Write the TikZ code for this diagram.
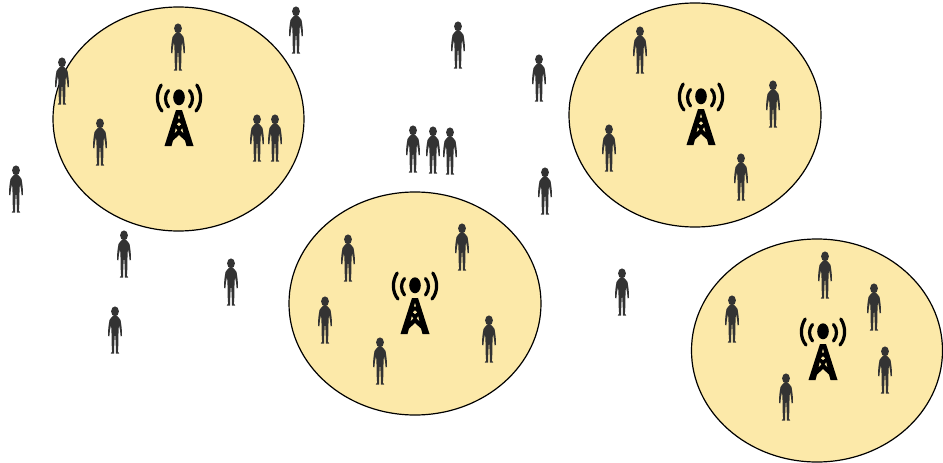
\documentclass[tikz,border=0pt]{standalone}
\definecolor{zone}{HTML}{FCE9A9}
\definecolor{figure}{HTML}{333333}
\tikzset{
  x=1pt,y=-1pt,
  zonecell/.style={draw=black,line width=1.2pt,fill=zone},
  person/.pic={
    \fill[figure] (0,-18.6) ellipse (3.9 and 5);
    \fill[figure,line join=round]
      (-1.6,-14.5) -- (1.6,-14.5) .. controls (2.5,-12.5) and (5,-12.5) .. (5.5,-10)
      .. controls (6.6,-4) and (7,0) .. (7,6) -- (5.6,6.3)
      .. controls (5.2,1) and (4.8,-2) .. (4,-5)
      .. controls (3.4,0) and (3.6,3) .. (3.4,7)
      .. controls (3.6,12) and (3.2,17) .. (2.9,21.5) -- (4.2,23.5) -- (0.9,23.5)
      .. controls (0.9,17) and (0.6,11) .. (0.2,5)
      -- (-0.2,5)
      .. controls (-0.6,11) and (-0.9,17) .. (-0.9,23.5) -- (-4.2,23.5) -- (-2.9,21.5)
      .. controls (-3.2,17) and (-3.6,12) .. (-3.4,7)
      .. controls (-3.6,3) and (-3.4,0) .. (-4,-5)
      .. controls (-4.8,-2) and (-5.2,1) .. (-5.6,6.3) -- (-7,6)
      .. controls (-7,0) and (-6.6,-4) .. (-5.5,-10)
      .. controls (-5,-12.5) and (-2.5,-12.5) .. (-1.6,-14.5) -- cycle;
  },
  towericon/.pic={
    \fill[black] (0,-17.7) ellipse (5.8 and 8);
    \foreach \s in {-1,1}{
      \draw[black,line width=3.2pt,line cap=round]
        (\s*17.8,-30) .. controls (\s*23,-22) and (\s*23,-11) .. (\s*17,-4);
      \draw[black,line width=3.2pt,line cap=round]
        (\s*10.5,-24.5) .. controls (\s*14.5,-20) and (\s*14.5,-13) .. (\s*10.5,-8);
    }
    \fill[black,even odd rule]
      (-3,-5) -- (3,-5) -- (14.5,31) -- (7.5,31) -- (6,25.5) -- (0,20) -- (-6,25.5) -- (-7.5,31) -- (-14.5,31) -- cycle
      (0,-0.5) -- (-1.1,3.5) -- (1.1,3.5) -- cycle
      (0,7.2) -- (-2.4,9.3) -- (0,11.2) -- (2.4,9.3) -- cycle
      (-3.2,13) -- (-4.6,18.5) -- (-1.6,15.4) -- cycle
      (3.2,13) -- (4.6,18.5) -- (1.6,15.4) -- cycle;
  }
}
\begin{document}
\begin{tikzpicture}
\useasboundingbox (0,0) rectangle (943,463);
\draw[zonecell] (178.5,119) ellipse (125.5 and 112);
\draw[zonecell] (415,303.5) ellipse (126 and 111.5);
\draw[zonecell] (695,115) ellipse (126 and 112);
\draw[zonecell] (817,350.5) ellipse (125.5 and 111.5);
\foreach \x/\y in {179/115,415/303,701/114,823/349}
  \pic at (\x,\y) {towericon};
\foreach \x/\y in {178/47,296/30,458/45,62/81,539/78,640/50,100/142,257/138,275/138,413/149,433/150,450/151,16/189,124/254,231/282,115/330,545/191,622/292,773/104,609/148,741/177,348/258,462/247,325/320,380/361,489/339,825/275,874/307,732/319,885/370,786/397}
  \pic at (\x,\y) {person};
\end{tikzpicture}
\end{document}
